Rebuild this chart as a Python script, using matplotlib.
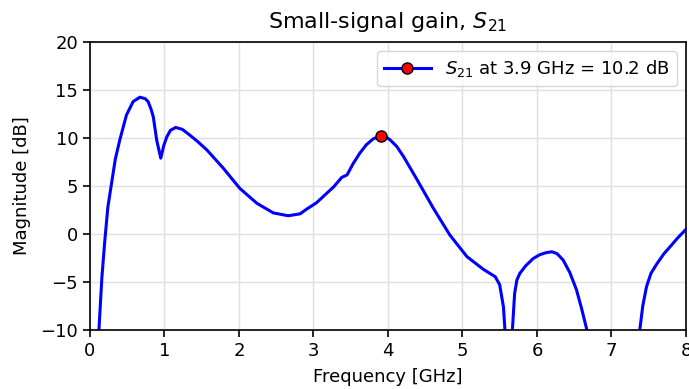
import numpy as np
import matplotlib.pyplot as plt

# S21 magnitude
freq_ghz = [0.08, 0.12, 0.16, 0.20, 0.24, 0.29, 0.34, 0.40, 0.49, 0.58, 0.67, 0.74, 0.78,
            0.82, 0.85, 0.895, 0.95, 0.99, 1.03, 1.08, 1.15, 1.24, 1.34, 1.45, 1.57,
            1.79, 2.01, 2.24, 2.46, 2.66, 2.82, 2.91, 3.04, 3.20, 3.27, 3.38, 3.45,
            3.53, 3.62, 3.71, 3.80, 3.89, 3.96, 4.03, 4.12, 4.21, 4.38, 4.61, 4.83,
            5.06, 5.28, 5.44, 5.50, 5.55, 5.57, 5.60, 5.64, 5.67, 5.70, 5.73, 5.77,
            5.85, 5.95, 6.04, 6.12, 6.20, 6.27, 6.35, 6.44, 6.53, 6.60, 6.67, 6.75,
            7.0, 7.30, 7.38, 7.42, 7.47, 7.53, 7.61, 7.70, 7.79, 7.89, 7.99, 8.05]
s21_db = [-20.0, -10.0, -4.5, -0.6, 2.8, 5.3, 7.8, 9.8, 12.4, 13.8, 14.25, 14.1, 13.8,
          13.0, 12.2, 9.8, 7.9, 9.2, 10.1, 10.8, 11.1, 10.9, 10.3, 9.6, 8.75,
          6.85, 4.76, 3.2, 2.2, 1.9, 2.1, 2.6, 3.25, 4.4, 4.9, 5.9, 6.15,
          7.3, 8.4, 9.3, 9.9, 10.2, 10.15, 9.8, 9.1, 8.05, 5.8, 2.67, -0.1,
          -2.36, -3.68, -4.45, -5.3, -7.6, -10.0, -20.0, -20.0, -10.0, -6.2, -4.8, -4.1,
          -3.3, -2.55, -2.15, -1.95, -1.85, -2.05, -2.7, -4.0, -5.8, -7.8, -10.0, -13.0,
          -25.0, -13.0, -10.0, -7.5, -5.5, -4.1, -3.1, -2.1, -1.3, -0.4, 0.4, 0.9]

marker_freq = 3.9
marker_db = 10.2

fig = plt.figure(figsize=(6.89, 3.89), dpi=100)
ax = fig.add_axes([0.1306, 0.1517, 0.865, 0.7403])

ax.plot(freq_ghz, s21_db, color="blue", linewidth=2.2)
ax.plot([marker_freq], [marker_db], color="blue", linewidth=2.2, marker="o",
        markersize=8, markerfacecolor="red", markeredgecolor="black",
        label=r"$S_{21}$ at 3.9 GHz = 10.2 dB")

ax.set_xlim(0, 8)
ax.set_ylim(-10, 20)
ax.set_xticks(np.arange(0, 9, 1))
ax.set_yticks(np.arange(-10, 25, 5))
ax.grid(True, color="#e0e0e0", linewidth=1.0)
ax.set_xlabel("Frequency [GHz]", fontsize=13, labelpad=6)
ax.set_ylabel("Magnitude [dB]", fontsize=13, labelpad=7)
ax.set_title(r"Small-signal gain, $S_{21}$", fontsize=16, pad=10)
ax.tick_params(labelsize=13, width=1.2, length=5)
for s in ax.spines.values():
    s.set_linewidth(1.2)
ax.legend(loc="upper right", fontsize=13, handlelength=2.6)

fig.savefig("out.png", dpi=100)
